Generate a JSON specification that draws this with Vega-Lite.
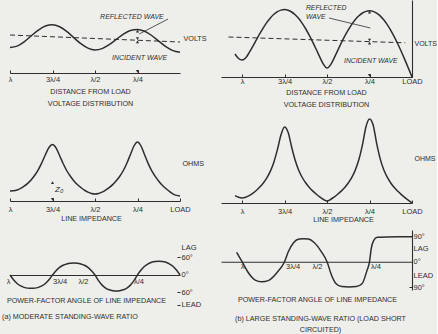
{
  "$schema": "https://vega.github.io/schema/vega-lite/v6.json",
  "background": "#eeeeeb",
  "padding": {"left": 2, "top": 0, "right": 0, "bottom": 0},
  "config": {
    "font": "Liberation Sans",
    "view": {"stroke": null},
    "axis": {"domainColor": "#2e2e2e", "domainWidth": 1.1, "tickColor": "#2e2e2e", "tickWidth": 1, "labelColor": "#2e2e2e", "titleColor": "#2e2e2e", "labelFont": "Liberation Sans", "titleFont": "Liberation Sans", "labelFontSize": 7.5, "titleFontSize": 7.2, "titleFontWeight": "normal", "grid": false, "labelFlush": false, "labelOverlap": false},
    "line": {"color": "#2e2e2e", "strokeWidth": 1.5},
    "rule": {"color": "#2e2e2e", "strokeWidth": 1.1},
    "text": {"color": "#2e2e2e", "font": "Liberation Sans", "fontSize": 7},
    "point": {"color": "#2e2e2e"},
    "title": {"font": "Liberation Sans", "fontSize": 7.2, "fontWeight": "normal", "color": "#2e2e2e"}
  },
  "datasets": {
    "a1": [
      {"d": 0, "v": 20.8}, {"d": 0.0417, "v": 22.4}, {"d": 0.0833, "v": 26.4}, {"d": 0.125, "v": 31.9}, {"d": 0.1667, "v": 37.5}, {"d": 0.2083, "v": 41.7}, {"d": 0.25, "v": 43.6}, {"d": 0.2917, "v": 42.5}, {"d": 0.3333, "v": 38.8}, {"d": 0.375, "v": 33.6}, {"d": 0.4167, "v": 28.3}, {"d": 0.4583, "v": 24.4}, {"d": 0.5, "v": 23.1}, {"d": 0.5417, "v": 24.9}, {"d": 0.5833, "v": 29.3}, {"d": 0.625, "v": 35.4}, {"d": 0.6667, "v": 41.6}, {"d": 0.7083, "v": 46.2}, {"d": 0.75, "v": 48.2}, {"d": 0.7917, "v": 47.0}, {"d": 0.8333, "v": 42.9}, {"d": 0.875, "v": 37.1}, {"d": 0.9167, "v": 31.2}, {"d": 0.9583, "v": 26.9}, {"d": 1, "v": 25.5}
    ],
    "a1inc": [{"d": 1, "v": 38}, {"d": 0, "v": 31}],
    "a1txt": [{"d": 0.47, "v": 56, "t": "REFLECTED WAVE"}, {"d": 0.4, "v": 15, "t": "INCIDENT WAVE"}],
    "a1lead": [{"d": 0.07, "v": 54}, {"d": 0.24, "v": 39}],
    "a1arr": [{"d": 0.25, "v": 1.6, "dir": "down"}, {"d": 0.25, "v": 31.2, "dir": "up"}, {"d": 0.25, "v": 34.4, "dir": "down"}, {"d": 0.25, "v": 41.9, "dir": "up"}],
    "a2": [
      {"d": 0, "v": 5.0}, {"d": 0.0208, "v": 5.6}, {"d": 0.0417, "v": 7.2}, {"d": 0.0625, "v": 9.6}, {"d": 0.0833, "v": 12.5}, {"d": 0.1042, "v": 15.8}, {"d": 0.125, "v": 19.8}, {"d": 0.1458, "v": 24.6}, {"d": 0.1667, "v": 30.3}, {"d": 0.1875, "v": 37.6}, {"d": 0.2083, "v": 46.2}, {"d": 0.2292, "v": 55.0}, {"d": 0.25, "v": 59.0}, {"d": 0.2708, "v": 55.0}, {"d": 0.2917, "v": 46.5}, {"d": 0.3125, "v": 37.8}, {"d": 0.3333, "v": 30.5}, {"d": 0.3542, "v": 24.8}, {"d": 0.375, "v": 20.2}, {"d": 0.3958, "v": 16.4}, {"d": 0.4167, "v": 13.4}, {"d": 0.4375, "v": 10.9}, {"d": 0.4583, "v": 8.9}, {"d": 0.4792, "v": 7.6}, {"d": 0.5, "v": 7.1},
      {"d": 0.5208, "v": 7.6}, {"d": 0.5417, "v": 8.9}, {"d": 0.5625, "v": 10.9}, {"d": 0.5833, "v": 13.5}, {"d": 0.6042, "v": 16.5}, {"d": 0.625, "v": 20.3}, {"d": 0.6458, "v": 25.0}, {"d": 0.6667, "v": 30.5}, {"d": 0.6875, "v": 37.5}, {"d": 0.7083, "v": 45.5}, {"d": 0.7292, "v": 53.2}, {"d": 0.75, "v": 56.5}, {"d": 0.7708, "v": 53.5}, {"d": 0.7917, "v": 46.3}, {"d": 0.8125, "v": 38.4}, {"d": 0.8333, "v": 31.4}, {"d": 0.8542, "v": 25.7}, {"d": 0.875, "v": 21.2}, {"d": 0.8958, "v": 17.6}, {"d": 0.9167, "v": 14.8}, {"d": 0.9375, "v": 12.6}, {"d": 0.9583, "v": 11.0}, {"d": 0.9792, "v": 10.2}, {"d": 1, "v": 10.0}
    ],
    "a2txt": [{"d": 0.735, "v": 11, "t": "Z₀"}],
    "a2arr": [{"d": 0.75, "v": 1.6, "dir": "down"}, {"d": 0.75, "v": 18.4, "dir": "up"}],
    "a3": [
      {"d": 0, "v": 0}, {"d": 0.0208, "v": 16.8}, {"d": 0.0417, "v": 29.8}, {"d": 0.0625, "v": 38.3}, {"d": 0.0833, "v": 43.5}, {"d": 0.1042, "v": 46.2}, {"d": 0.125, "v": 47}, {"d": 0.1458, "v": 46.2}, {"d": 0.1667, "v": 43.5}, {"d": 0.1875, "v": 38.3}, {"d": 0.2083, "v": 29.8}, {"d": 0.2292, "v": 16.8}, {"d": 0.25, "v": 0},
      {"d": 0.2708, "v": -19.7}, {"d": 0.2917, "v": -34.9}, {"d": 0.3125, "v": -44.8}, {"d": 0.3333, "v": -50.9}, {"d": 0.3542, "v": -54.1}, {"d": 0.375, "v": -55}, {"d": 0.3958, "v": -54.1}, {"d": 0.4167, "v": -50.9}, {"d": 0.4375, "v": -44.8}, {"d": 0.4583, "v": -34.9}, {"d": 0.4792, "v": -19.7}, {"d": 0.5, "v": 0},
      {"d": 0.5208, "v": 14.7}, {"d": 0.5417, "v": 26}, {"d": 0.5625, "v": 33.4}, {"d": 0.5833, "v": 37.9}, {"d": 0.6042, "v": 40.3}, {"d": 0.625, "v": 41}, {"d": 0.6458, "v": 40.3}, {"d": 0.6667, "v": 37.9}, {"d": 0.6875, "v": 33.4}, {"d": 0.7083, "v": 26}, {"d": 0.7292, "v": 14.7}, {"d": 0.75, "v": 0},
      {"d": 0.7708, "v": -16.5}, {"d": 0.7917, "v": -29.2}, {"d": 0.8125, "v": -37.5}, {"d": 0.8333, "v": -42.6}, {"d": 0.8542, "v": -45.2}, {"d": 0.875, "v": -46}, {"d": 0.8958, "v": -45.2}, {"d": 0.9167, "v": -42.6}, {"d": 0.9375, "v": -37.5}, {"d": 0.9583, "v": -29.2}, {"d": 0.9792, "v": -16.5}, {"d": 1, "v": 0}
    ],
    "b1": [
      {"d": 0, "v": 0}, {"d": 0.0208, "v": 8.6}, {"d": 0.0417, "v": 17.1}, {"d": 0.0625, "v": 25.3}, {"d": 0.0833, "v": 33.0}, {"d": 0.1042, "v": 40.2}, {"d": 0.125, "v": 46.7}, {"d": 0.1458, "v": 52.4}, {"d": 0.1667, "v": 57.2}, {"d": 0.1875, "v": 61.1}, {"d": 0.2083, "v": 63.9}, {"d": 0.2292, "v": 65.6}, {"d": 0.25, "v": 66.2}, {"d": 0.2708, "v": 65.6}, {"d": 0.2917, "v": 64.0}, {"d": 0.3125, "v": 61.2}, {"d": 0.3333, "v": 57.5}, {"d": 0.3542, "v": 52.7}, {"d": 0.375, "v": 47.1}, {"d": 0.3958, "v": 40.8}, {"d": 0.4167, "v": 33.8}, {"d": 0.4375, "v": 26.4}, {"d": 0.4583, "v": 18.9}, {"d": 0.4792, "v": 12.1}, {"d": 0.5, "v": 8.9},
      {"d": 0.5208, "v": 12.7}, {"d": 0.5417, "v": 19.6}, {"d": 0.5625, "v": 27.2}, {"d": 0.5833, "v": 34.6}, {"d": 0.6042, "v": 41.6}, {"d": 0.625, "v": 48.0}, {"d": 0.6458, "v": 53.6}, {"d": 0.6667, "v": 58.4}, {"d": 0.6875, "v": 62.2}, {"d": 0.7083, "v": 65.0}, {"d": 0.7292, "v": 66.7}, {"d": 0.75, "v": 67.4}, {"d": 0.7708, "v": 66.9}, {"d": 0.7917, "v": 65.3}, {"d": 0.8125, "v": 62.7}, {"d": 0.8333, "v": 59.1}, {"d": 0.8542, "v": 54.6}, {"d": 0.875, "v": 49.2}, {"d": 0.8958, "v": 43.3}, {"d": 0.9167, "v": 36.9}, {"d": 0.9375, "v": 30.4}, {"d": 0.9583, "v": 24.3}, {"d": 0.9792, "v": 19.0}, {"d": 1, "v": 17.0}, {"d": 1.0208, "v": 18.5}, {"d": 1.0417, "v": 23.0}
    ],
    "b1inc": [{"d": 1.08, "v": 40}, {"d": 0.04, "v": 34.2}],
    "b1txt": [{"d": 0.624, "v": 68.6, "t": "REFLECTED"}, {"d": 0.624, "v": 60.2, "t": "WAVE"}, {"d": 0.4, "v": 16, "t": "INCIDENT WAVE"}],
    "b1lead": [{"d": 0.488, "v": 59}, {"d": 0.245, "v": 49}],
    "b1arr": [{"d": 0.25, "v": 1.6, "dir": "down"}, {"d": 0.25, "v": 33.8, "dir": "up"}, {"d": 0.25, "v": 37, "dir": "down"}, {"d": 0.25, "v": 64.8, "dir": "up"}],
    "b2": [
      {"d": 0, "v": 0}, {"d": 0.0208, "v": 2.7}, {"d": 0.0417, "v": 5.4}, {"d": 0.0625, "v": 8.4}, {"d": 0.0833, "v": 11.7}, {"d": 0.1042, "v": 15.4}, {"d": 0.125, "v": 20}, {"d": 0.1458, "v": 25.8}, {"d": 0.1667, "v": 33.5}, {"d": 0.1875, "v": 44.4}, {"d": 0.2083, "v": 59.9}, {"d": 0.2292, "v": 78.3}, {"d": 0.25, "v": 84.0}, {"d": 0.2708, "v": 76.3}, {"d": 0.2917, "v": 58.2}, {"d": 0.3125, "v": 43.5}, {"d": 0.3333, "v": 33.1}, {"d": 0.3542, "v": 25.6}, {"d": 0.375, "v": 20}, {"d": 0.3958, "v": 15.6}, {"d": 0.4167, "v": 11.9}, {"d": 0.4375, "v": 8.7}, {"d": 0.4583, "v": 5.9}, {"d": 0.4792, "v": 3.5}, {"d": 0.5, "v": 2.0},
      {"d": 0.5208, "v": 3.5}, {"d": 0.5417, "v": 5.9}, {"d": 0.5625, "v": 8.7}, {"d": 0.5833, "v": 11.9}, {"d": 0.6042, "v": 15.6}, {"d": 0.625, "v": 20}, {"d": 0.6458, "v": 25.5}, {"d": 0.6667, "v": 32.8}, {"d": 0.6875, "v": 42.7}, {"d": 0.7083, "v": 56.0}, {"d": 0.7292, "v": 70.7}, {"d": 0.75, "v": 75.9}, {"d": 0.7708, "v": 68.2}, {"d": 0.7917, "v": 53.6}, {"d": 0.8125, "v": 41.1}, {"d": 0.8333, "v": 31.9}, {"d": 0.8542, "v": 25.2}, {"d": 0.875, "v": 20}, {"d": 0.8958, "v": 15.9}, {"d": 0.9167, "v": 12.5}, {"d": 0.9375, "v": 9.7}, {"d": 0.9583, "v": 7.4}, {"d": 0.9792, "v": 5.7}, {"d": 1, "v": 5.0}, {"d": 1.0208, "v": 5.7}, {"d": 1.0417, "v": 7.3}
    ],
    "b3": [
      {"d": 1.032, "v": 33}, {"d": 1.0, "v": 0}, {"d": 0.961, "v": -41}, {"d": 0.923, "v": -65}, {"d": 0.885, "v": -71}, {"d": 0.846, "v": -67}, {"d": 0.798, "v": -41}, {"d": 0.75, "v": 0}, {"d": 0.728, "v": 35}, {"d": 0.696, "v": 68}, {"d": 0.663, "v": 80}, {"d": 0.636, "v": 81}, {"d": 0.609, "v": 80}, {"d": 0.576, "v": 68}, {"d": 0.533, "v": 35}, {"d": 0.5, "v": 0}, {"d": 0.474, "v": -47}, {"d": 0.448, "v": -77}, {"d": 0.414, "v": -88}, {"d": 0.371, "v": -89}, {"d": 0.328, "v": -88}, {"d": 0.293, "v": -77}, {"d": 0.267, "v": -35}, {"d": 0.25, "v": 0}, {"d": 0.24, "v": 46}, {"d": 0.225, "v": 75}, {"d": 0.205, "v": 86}, {"d": 0.15, "v": 87.5}, {"d": 0.08, "v": 88}, {"d": 0, "v": 88}
    ]
  },
  "bounds": "flush",
  "align": "each",
  "columns": 2,
  "spacing": {"row": 27, "column": 41},
  "concat": [
    {
      "width": 170, "height": 73,
      "encoding": {
        "x": {"field": "d", "type": "quantitative", "scale": {"domain": [1, 0], "nice": false, "zero": false},
          "axis": {"values": [1, 0.75, 0.5, 0.25], "labelExpr": "datum.value == 1 ? 'λ' : datum.value == 0.75 ? '3λ/4' : datum.value == 0.5 ? 'λ/2' : datum.value == 0.25 ? 'λ/4' : 'LOAD'", "tickSize": -3, "labelPadding": 5, "title": ["DISTANCE FROM LOAD", "VOLTAGE DISTRIBUTION"], "titleLineHeight": 12, "titlePadding": 5, "titleX": 80, "titleAlign": "center"}},
        "y": {"field": "v", "type": "quantitative", "scale": {"domain": [0, 73], "nice": false, "zero": false},
          "axis": {"orient": "right", "domain": false, "ticks": false, "labels": false, "title": "VOLTS", "titleAngle": 0, "titleAlign": "left", "titleBaseline": "middle", "titleX": 3, "titleY": 38}}
      },
      "layer": [
        {"data": {"name": "a1"}, "mark": {"type": "line", "interpolate": "monotone"}},
        {"data": {"name": "a1inc"}, "mark": {"type": "line", "strokeDash": [5, 3], "strokeWidth": 1}},
        {"data": {"values": [{}]}, "mark": "rule", "encoding": {"x": {"datum": 0}, "y": {"datum": 0}, "y2": {"datum": 66}}},
        {"data": {"values": [{}]}, "mark": {"type": "rule", "strokeDash": [2, 1.5], "strokeWidth": 0.8}, "encoding": {"x": {"datum": 0.25}, "y": {"datum": 0}, "y2": {"datum": 43.5}}},
        {"data": {"name": "a1arr"}, "mark": {"type": "point", "filled": true, "size": 10, "opacity": 1}, "encoding": {"shape": {"field": "dir", "type": "nominal", "scale": {"domain": ["up", "down"], "range": ["triangle-up", "triangle-down"]}, "legend": null}}},
        {"data": {"name": "a1lead"}, "mark": {"type": "line", "strokeWidth": 0.8}},
        {"data": {"name": "a1txt"}, "mark": {"type": "text", "align": "left", "baseline": "middle", "fontStyle": "italic"}, "encoding": {"text": {"field": "t"}}}
      ]
    },
    {
      "width": 191, "height": 77,
      "encoding": {
        "x": {"field": "d", "type": "quantitative", "scale": {"domain": [1.124, 0], "nice": false, "zero": false},
          "axis": {"values": [1, 0.75, 0.5, 0.25, 0], "labelExpr": "datum.value == 1 ? 'λ' : datum.value == 0.75 ? '3λ/4' : datum.value == 0.5 ? 'λ/2' : datum.value == 0.25 ? 'λ/4' : 'LOAD'", "tickSize": -3, "labelPadding": 3, "title": ["DISTANCE FROM LOAD", "VOLTAGE DISTRIBUTION"], "titleLineHeight": 11.6, "titlePadding": 4, "titleX": 105, "titleAlign": "center"}},
        "y": {"field": "v", "type": "quantitative", "scale": {"domain": [0, 77], "nice": false, "zero": false},
          "axis": {"orient": "right", "domain": true, "ticks": false, "labels": false, "title": "VOLTS", "titleFontSize": 7, "titleAngle": 0, "titleAlign": "left", "titleBaseline": "middle", "titleX": 2, "titleY": 43}}
      },
      "layer": [
        {"data": {"name": "b1"}, "mark": {"type": "line", "interpolate": "monotone"}},
        {"data": {"name": "b1inc"}, "mark": {"type": "line", "strokeDash": [5, 3], "strokeWidth": 1}},
        {"data": {"values": [{}]}, "mark": {"type": "rule", "strokeDash": [2, 1.5], "strokeWidth": 0.8}, "encoding": {"x": {"datum": 0.25}, "y": {"datum": 0}, "y2": {"datum": 66.4}}},
        {"data": {"name": "b1arr"}, "mark": {"type": "point", "filled": true, "size": 10, "opacity": 1}, "encoding": {"shape": {"field": "dir", "type": "nominal", "scale": {"domain": ["up", "down"], "range": ["triangle-up", "triangle-down"]}, "legend": null}}},
        {"data": {"name": "b1lead"}, "mark": {"type": "line", "strokeWidth": 0.8}},
        {"data": {"name": "b1txt"}, "mark": {"type": "text", "align": "left", "baseline": "middle", "fontStyle": "italic", "fontSize": 6.8}, "encoding": {"text": {"field": "t"}}}
      ]
    },
    {
      "width": 170, "height": 97,
      "encoding": {
        "x": {"field": "d", "type": "quantitative", "scale": {"domain": [1, 0], "nice": false, "zero": false},
          "axis": {"values": [1, 0.75, 0.5, 0.25, 0], "labelExpr": "datum.value == 1 ? 'λ' : datum.value == 0.75 ? '3λ/4' : datum.value == 0.5 ? 'λ/2' : datum.value == 0.25 ? 'λ/4' : 'LOAD'", "tickSize": -3, "labelPadding": 7, "title": "LINE IMPEDANCE", "titlePadding": 2, "titleX": 81, "titleAlign": "center"}},
        "y": {"field": "v", "type": "quantitative", "scale": {"domain": [0, 97], "nice": false, "zero": false},
          "axis": {"orient": "right", "domain": false, "ticks": false, "labels": false, "title": "OHMS", "titleAngle": 0, "titleAlign": "left", "titleBaseline": "middle", "titleX": 2, "titleY": 59}}
      },
      "layer": [
        {"data": {"name": "a2"}, "mark": {"type": "line", "interpolate": "monotone"}},
        {"data": {"values": [{}]}, "mark": {"type": "rule", "strokeDash": [5, 3], "strokeWidth": 1}, "encoding": {"x": {"datum": 1.01}, "x2": {"datum": 0}, "y": {"datum": 20}}},
        {"data": {"values": [{}]}, "mark": "rule", "encoding": {"x": {"datum": 0}, "y": {"datum": 0}, "y2": {"datum": 71}}},
        {"data": {"values": [{}]}, "mark": {"type": "rule", "strokeWidth": 0.8}, "encoding": {"x": {"datum": 0.75}, "y": {"datum": 0}, "y2": {"datum": 20}}},
        {"data": {"name": "a2arr"}, "mark": {"type": "point", "filled": true, "size": 10, "opacity": 1}, "encoding": {"shape": {"field": "dir", "type": "nominal", "scale": {"domain": ["up", "down"], "range": ["triangle-up", "triangle-down"]}, "legend": null}}},
        {"data": {"name": "a2txt"}, "mark": {"type": "text", "align": "left", "baseline": "middle", "fontStyle": "italic", "fontSize": 8}, "encoding": {"text": {"field": "t"}}}
      ]
    },
    {
      "width": 191, "height": 99,
      "encoding": {
        "x": {"field": "d", "type": "quantitative", "scale": {"domain": [1.124, 0], "nice": false, "zero": false},
          "axis": {"values": [1, 0.75, 0.5, 0.25, 0], "labelExpr": "datum.value == 1 ? 'λ' : datum.value == 0.75 ? '3λ/4' : datum.value == 0.5 ? 'λ/2' : datum.value == 0.25 ? 'λ/4' : 'LOAD'", "tickSize": -3, "labelPadding": 7, "title": "LINE IMPEDANCE", "titlePadding": 1, "titleX": 122, "titleAlign": "center"}},
        "y": {"field": "v", "type": "quantitative", "scale": {"domain": [0, 99], "nice": false, "zero": false},
          "axis": {"orient": "right", "domain": false, "ticks": false, "labels": false, "title": "OHMS", "titleFontSize": 7, "titleAngle": 0, "titleAlign": "left", "titleBaseline": "middle", "titleX": 2, "titleY": 54}}
      },
      "layer": [
        {"data": {"name": "b2"}, "mark": {"type": "line", "interpolate": "monotone"}},
        {"data": {"values": [{}]}, "mark": {"type": "rule", "strokeDash": [5, 3], "strokeWidth": 1}, "encoding": {"x": {"datum": 1.1}, "x2": {"datum": 0}, "y": {"datum": 20}}},
        {"data": {"values": [{}]}, "mark": "rule", "encoding": {"x": {"datum": 0}, "y": {"datum": 0}, "y2": {"datum": 86}}}
      ]
    },
    {
      "width": 170, "height": 77,
      "title": {"text": "(a) MODERATE STANDING-WAVE RATIO", "orient": "bottom", "anchor": "start", "frame": "group", "dx": -8, "offset": 5},
      "encoding": {
        "x": {"field": "d", "type": "quantitative", "scale": {"domain": [1, 0], "nice": false, "zero": false},
          "axis": {"offset": -32, "values": [1, 0.75, 0.5, 0.25], "labelExpr": "datum.value == 1 ? 'λ' : datum.value == 0.75 ? '3λ/4' : datum.value == 0.5 ? 'λ/2' : 'λ/4'", "ticks": false, "labelPadding": 2,
            "labelAlign": {"condition": {"test": "datum.value == 1 || datum.value == 0.5", "value": "right"}, "value": "left"},
            "labelOffset": {"condition": [{"test": "datum.value == 0.5", "value": -7}, {"test": "datum.value == 0.25", "value": -4}], "value": 0},
            "title": "POWER-FACTOR ANGLE OF LINE IMPEDANCE", "titleX": 76, "titleY": 25, "titleAlign": "center", "titleBaseline": "middle"}},
        "y": {"field": "v", "type": "quantitative", "scale": {"domain": [-110, 154.3], "nice": false, "zero": false},
          "axis": {"orient": "right", "domain": false, "values": [93, 60, 0, -60, -103], "labelExpr": "datum.value == 93 ? 'LAG' : datum.value == -103 ? 'LEAD' : abs(datum.value) + '°'", "tickSize": -3, "labelPadding": 4, "title": null,
            "tickOpacity": {"condition": {"test": "datum.value == 93 || datum.value == 0", "value": 0}, "value": 1}}}
      },
      "layer": [
        {"data": {"name": "a3"}, "mark": {"type": "line", "interpolate": "monotone"}},
        {"data": {"values": [{}]}, "mark": "rule", "encoding": {"x": {"datum": 0}, "y": {"datum": -110}, "y2": {"datum": 120}}}
      ]
    },
    {
      "width": 191, "height": 60,
      "title": {"text": ["(b) LARGE STANDING-WAVE RATIO (LOAD SHORT", "CIRCUITED)"], "orient": "bottom", "anchor": "middle", "frame": "group", "dx": 4, "offset": 12, "lineHeight": 11},
      "encoding": {
        "x": {"field": "d", "type": "quantitative", "scale": {"domain": [1.124, 0], "nice": false, "zero": false},
          "axis": {"offset": -28.3, "values": [1, 0.75, 0.5, 0.25], "labelExpr": "datum.value == 1 ? 'λ' : datum.value == 0.75 ? '3λ/4' : datum.value == 0.5 ? 'λ/2' : 'λ/4'", "ticks": false, "labelPadding": 1,
            "labelAlign": {"condition": {"test": "datum.value == 1 || datum.value == 0.5", "value": "right"}, "value": "left"},
            "labelOffset": {"condition": [{"test": "datum.value == 0.5", "value": -5}, {"test": "datum.value == 1", "value": 2}], "value": 1},
            "title": "POWER-FACTOR ANGLE OF LINE IMPEDANCE", "titleX": 96, "titleY": 38, "titleAlign": "center", "titleBaseline": "middle"}},
        "y": {"field": "v", "type": "quantitative", "scale": {"domain": [-100, 112], "nice": false, "zero": false},
          "axis": {"orient": "right", "values": [90, 46, 0, -47, -90], "labelExpr": "datum.value == 46 ? 'LAG' : datum.value == -47 ? 'LEAD' : abs(datum.value) + '°'", "tickSize": -3, "labelPadding": 4, "title": null,
            "tickOpacity": {"condition": {"test": "abs(datum.value) < 80", "value": 0}, "value": 1}}}
      },
      "layer": [
        {"data": {"name": "b3"}, "mark": {"type": "line", "interpolate": "monotone"}}
      ]
    }
  ]
}
